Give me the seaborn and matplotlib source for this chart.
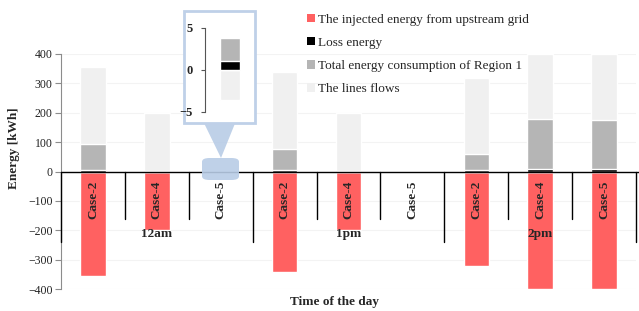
import numpy as np
import pandas as pd
import matplotlib
matplotlib.use("Agg")
import matplotlib.pyplot as plt
from matplotlib.patches import Patch, Rectangle, Polygon, FancyBboxPatch
import seaborn as sns

# Data (kWh)
hours = ["12am", "12am", "12am", "1pm", "1pm", "1pm", "2pm", "2pm", "2pm"]
cases = ["Case-2", "Case-4", "Case-5"] * 3
injected = [-355, -198, 0, -341, -198, 0, -320, -400, -400]
loss = [5, 3, 1.1, 5, 3, 0, 6, 7, 8]
consumption = [87, 0, 2.7, 73, 0, 0, 52, 173, 169]
lines_flows = [263, 195, -3.6, 262, 195, 0, 260, 220, 223]
group_labels = ["12am", "1pm", "2pm"]

legend_labels = ["The injected energy from upstream grid", "Loss energy",
                 "Total energy consumption of Region 1", "The lines flows"]
colors = ["#ff6161", "#000000", "#b5b5b5", "#f0f0f0"]

df = pd.DataFrame({"slot": [f"{h} {c}" for h, c in zip(hours, cases)],
                   "case": cases, "injected": injected, "loss": loss,
                   "consumption": consumption, "lines": lines_flows})
df["top_cons"] = df["loss"] + df["consumption"]
df["top_lines"] = np.where(df["lines"] > 0, df["top_cons"] + df["lines"], df["lines"])
order = list(df["slot"])

sns.set_theme(style="white")
plt.rcParams["font.family"] = ["Liberation Serif", "DejaVu Serif"]

fig = plt.figure(figsize=(6.39, 3.11), dpi=100)
ax = fig.add_axes([61 / 639, 1 - 289 / 311, 575 / 639, 235 / 311])

bw = 0.4
sns.barplot(data=df, x="slot", y="injected", order=order, color=colors[0],
            width=bw, saturation=1, ax=ax, zorder=2)
sns.barplot(data=df, x="slot", y="top_lines", order=order, color=colors[3],
            width=bw, saturation=1, ax=ax, zorder=2)
sns.barplot(data=df, x="slot", y="top_cons", order=order, color=colors[2],
            width=bw, saturation=1, ax=ax, zorder=2)
sns.barplot(data=df, x="slot", y="loss", order=order, color=colors[1],
            width=bw, saturation=1, ax=ax, zorder=2)

ax.set_ylim(-400, 400)
ax.set_xlim(-0.5, 8.5)
ax.set_yticks(range(-400, 401, 100))
ax.set_xticks([])
ax.yaxis.grid(True, color="#f3f3f3", lw=0.8, zorder=0)
for s in ["top", "right", "bottom"]:
    ax.spines[s].set_visible(False)
ax.spines["left"].set_color("#8c8c8c")
ax.spines["left"].set_linewidth(0.8)
ax.tick_params(axis="y", left=True, length=4, width=0.8, color="#8c8c8c",
               labelsize=8.5, labelcolor="#222222", pad=2)
ax.axhline(0, color="black", lw=1.0, zorder=3, clip_on=False,
           xmax=1.01)

# separators between cases and hours
for i in range(10):
    xb = i - 0.5
    low = -241 if i % 3 == 0 else -160
    ax.plot([xb, xb], [0, low], color="black", lw=1.0, zorder=3, clip_on=False)

for i, c in enumerate(cases):
    ax.text(i, -95, c, rotation=90, ha="center", va="center",
            fontsize=9.5, fontweight="bold", zorder=4)
for g, lab in enumerate(group_labels):
    ax.text(3 * g + 1, -212, lab, ha="center", va="center",
            fontsize=9.5, fontweight="bold", zorder=4)

ax.set_ylabel("Energy [kWh]", fontsize=9.5, fontweight="bold")
ax.yaxis.set_label_coords(-0.072, 0.6)
ax.set_xlabel("Time of the day", fontsize=9.5, fontweight="bold")
ax.xaxis.set_label_coords(0.476, -0.03)

handles = [Patch(facecolor=c, edgecolor="none") for c in colors]
fig.legend(handles, legend_labels, loc="upper left",
           bbox_to_anchor=(300 / 639, 1 - 7 / 311), frameon=False,
           fontsize=9.5, handlelength=0.6, handleheight=0.6,
           handletextpad=0.3, labelspacing=0.85, borderpad=0)

# callout for Case-5 at 12am
tf = fig.transFigure
fig.patches.append(Polygon([(203 / 639, 1 - 121 / 311), (236 / 639, 1 - 121 / 311),
                            (221 / 639, 1 - 158 / 311)], closed=True,
                           facecolor="#b8cce6", edgecolor="none", alpha=0.9,
                           transform=tf, zorder=5))
fig.patches.append(FancyBboxPatch((202 / 639, 1 - 180 / 311), 37 / 639, 22 / 311,
                                  boxstyle="round,pad=0,rounding_size=0.012",
                                  facecolor="#b8cce6", edgecolor="none", alpha=0.9,
                                  transform=tf, zorder=5))
fig.patches.append(Rectangle((184 / 639, 1 - 123 / 311), 71 / 639, 112 / 311,
                             facecolor="white", edgecolor="#bfd0e8", lw=2,
                             transform=tf, zorder=6))

ins = fig.add_axes([205 / 639, 1 - 112 / 311, 45 / 639, 84 / 311], zorder=7)
ins.patch.set_alpha(0)
sub = df[df["slot"] == "12am Case-5"]
sns.barplot(data=sub, x="slot", y="top_lines", color=colors[3], width=0.8,
            saturation=1, ax=ins)
sns.barplot(data=sub, x="slot", y="top_cons", color=colors[2], width=0.8,
            saturation=1, ax=ins)
sns.barplot(data=sub, x="slot", y="loss", color=colors[1], width=0.8,
            saturation=1, ax=ins)
ins.set_xlim(-1.0, 0.8)
ins.set_ylim(-5, 5)
ins.set_yticks([-5, 0, 5])
ins.set_xticks([])
ins.set_xlabel("")
ins.set_ylabel("")
for s in ["top", "right", "bottom"]:
    ins.spines[s].set_visible(False)
ins.spines["left"].set_color("#555555")
ins.spines["left"].set_linewidth(0.8)
ins.tick_params(axis="y", left=True, length=3, width=0.8, color="#555555",
                labelsize=9, pad=6)
for t in ins.get_yticklabels():
    t.set_fontweight("bold")

fig.savefig("out.png", dpi=100)
